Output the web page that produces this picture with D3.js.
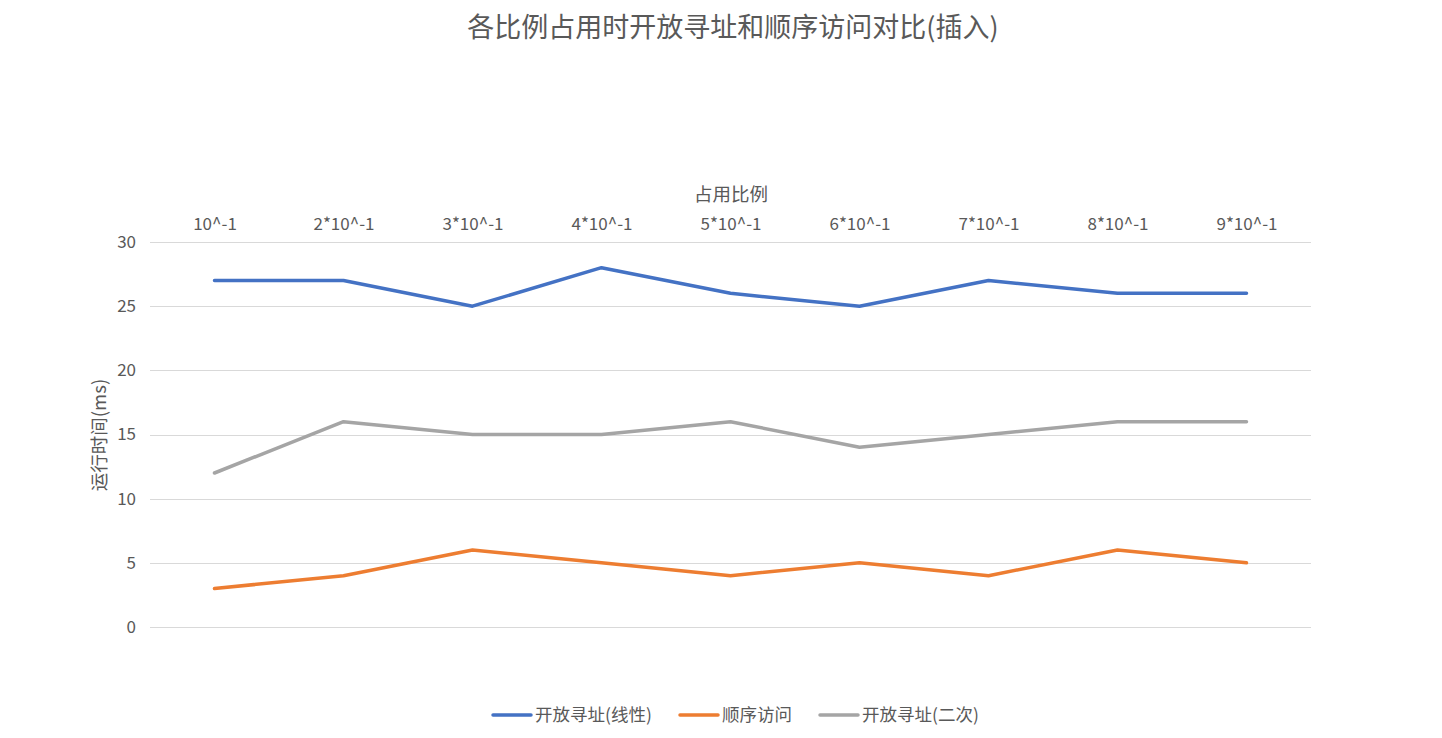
<!DOCTYPE html>
<html>
<head>
<meta charset="utf-8">
<script src="https://cdn.jsdelivr.net/npm/d3@7"></script>
<style>
  body { margin: 0; background: #fff; }
  text { font-family: "Noto Sans CJK SC", "Noto Sans", sans-serif; fill: #595959; }
</style>
</head>
<body>
<div id="chart"></div>
<script>
// Chart data
const categories = ["10^-1", "2*10^-1", "3*10^-1", "4*10^-1", "5*10^-1", "6*10^-1", "7*10^-1", "8*10^-1", "9*10^-1"];
const linear = [27, 27, 25, 28, 26, 25, 27, 26, 26];
const sequential = [3, 4, 6, 5, 4, 5, 4, 6, 5];
const quadratic = [12, 16, 15, 15, 16, 14, 15, 16, 16];
const yTicks = [0, 5, 10, 15, 20, 25, 30];

const series = [
  { name: "开放寻址(线性)", values: linear, color: "#4472C4" },
  { name: "顺序访问", values: sequential, color: "#ED7D31" },
  { name: "开放寻址(二次)", values: quadratic, color: "#A5A5A5" }
];

const W = 1442, H = 738;
const margin = { top: 242, right: 131, bottom: 111, left: 150 },
      width = W - margin.left - margin.right,
      height = H - margin.top - margin.bottom;

const svg = d3.select("#chart")
  .append("svg")
  .attr("width", W)
  .attr("height", H);

// Title
svg.append("text")
  .attr("x", 733)
  .attr("y", 37)
  .attr("text-anchor", "middle")
  .style("font-size", "27px")
  .text("各比例占用时开放寻址和顺序访问对比(插入)");

const g = svg.append("g")
  .attr("transform", `translate(${margin.left},${margin.top})`);

// Scales
const x = d3.scalePoint()
  .domain(categories)
  .range([0, width])
  .padding(0.5);

const y = d3.scaleLinear()
  .domain([0, 30])
  .range([height, 0]);

// Gridlines
g.selectAll(".grid")
  .data(yTicks)
  .enter()
  .append("line")
  .attr("x1", 0)
  .attr("x2", width)
  .attr("y1", d => Math.round(y(d)) + 0.5)
  .attr("y2", d => Math.round(y(d)) + 0.5)
  .attr("stroke", "#d9d9d9")
  .attr("stroke-width", 1);

// Y-axis labels
const yAxis = g.append("g")
  .call(d3.axisLeft(y).tickValues(yTicks).tickSize(0).tickPadding(14));
yAxis.select(".domain").remove();
yAxis.selectAll("text")
  .style("font-size", "17px")
  .attr("fill", "#595959");

// X-axis on top
const xAxis = g.append("g")
  .attr("transform", "translate(0,-12)")
  .call(d3.axisTop(x).tickSize(0).tickPadding(0));
xAxis.select(".domain").remove();
xAxis.selectAll("text")
  .style("font-size", "17px")
  .attr("fill", "#595959");

// Axis titles
svg.append("text")
  .attr("x", 731)
  .attr("y", 201)
  .attr("text-anchor", "middle")
  .style("font-size", "18.5px")
  .text("占用比例");

svg.append("text")
  .attr("transform", "rotate(-90)")
  .attr("x", -435)
  .attr("y", 106)
  .attr("text-anchor", "middle")
  .style("font-size", "18.5px")
  .text("运行时间(ms)");

// Lines
const line = d3.line()
  .x((d, i) => x(categories[i]))
  .y(d => y(d));

g.selectAll(".series")
  .data(series)
  .enter()
  .append("path")
  .attr("d", d => line(d.values))
  .attr("fill", "none")
  .attr("stroke", d => d.color)
  .attr("stroke-width", 3.5)
  .attr("stroke-linejoin", "round")
  .attr("stroke-linecap", "round");

// Legend
const legendX = [493, 680, 820];
const legend = svg.append("g");
series.forEach((s, i) => {
  const lg = legend.append("g").attr("transform", `translate(${legendX[i]},715)`);
  lg.append("line")
    .attr("x1", 0).attr("x2", 38)
    .attr("y1", 0).attr("y2", 0)
    .attr("stroke", s.color)
    .attr("stroke-width", 3.5)
    .attr("stroke-linecap", "round");
  lg.append("text")
    .attr("x", 42)
    .attr("y", 6)
    .style("font-size", "17.5px")
    .text(s.name);
});
</script>
</body>
</html>
